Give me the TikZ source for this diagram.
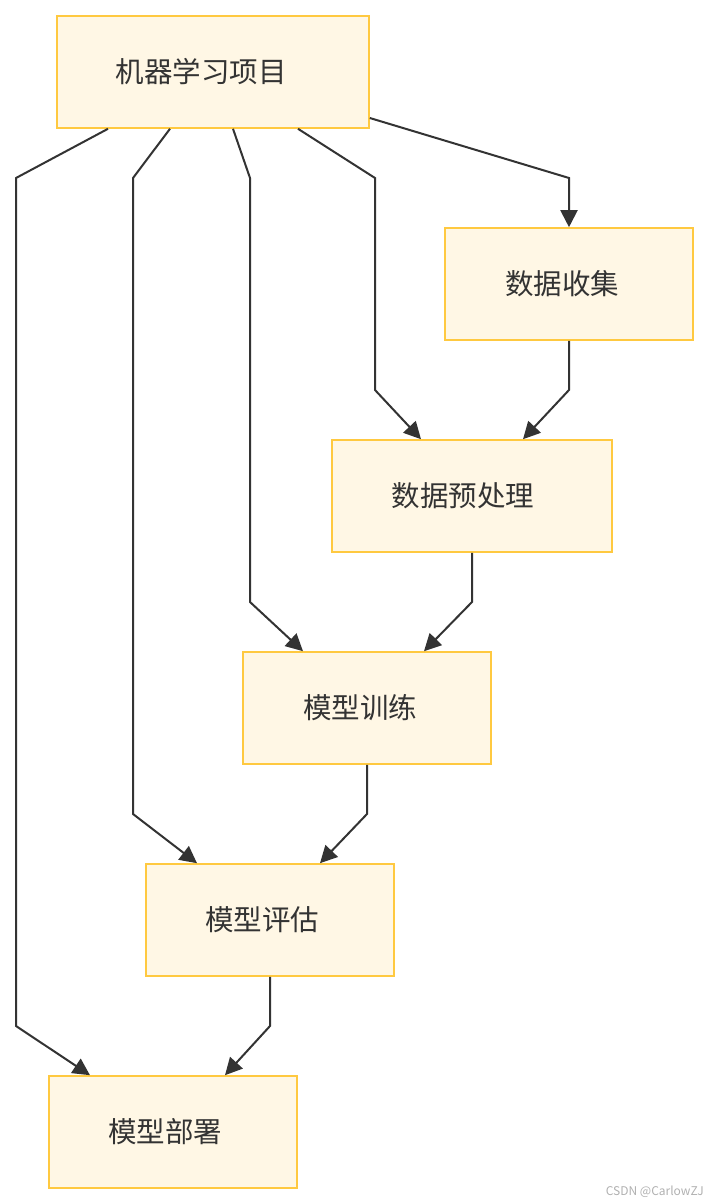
\documentclass[tikz,border=0pt]{standalone}
\usepackage{fontspec}
\setmainfont{Noto Sans CJK SC}
\usetikzlibrary{arrows.meta}
\definecolor{boxfill}{HTML}{FFF7E5}
\definecolor{boxline}{HTML}{FFC940}
\definecolor{ink}{HTML}{333333}
\definecolor{wm}{HTML}{B0B0B0}
\begin{document}
\begin{tikzpicture}[x=1pt,y=-1pt,
  box/.style={draw=boxline,fill=boxfill,line width=1.6pt,minimum height=112pt,inner sep=0pt},
  lbl/.style={text=ink,font=\fontsize{28.5}{32}\selectfont,inner sep=0pt},
  edge/.style={draw=ink,line width=2pt,-{Triangle[length=17pt,width=17pt]}}]
\useasboundingbox (0,0) rectangle (710,1204);
% boxes
\node[box,minimum width=312pt] (A) at (213,72) {};
\node[box,minimum width=248pt] (B) at (569,284) {};
\node[box,minimum width=280pt] (C) at (472,496) {};
\node[box,minimum width=248pt] (D) at (367,708) {};
\node[box,minimum width=248pt] (E) at (270,920) {};
\node[box,minimum width=248pt] (F) at (173,1132) {};
% labels
\node[lbl] (tA) at (201,72) {机器学习项目};
\node[lbl] (tB) at (562,284) {数据收集};
\node[lbl] (tC) at (463,496) {数据预处理};
\node[lbl] (tD) at (360,708) {模型训练};
\node[lbl] (tE) at (262,920) {模型评估};
\node[lbl] (tF) at (165,1132) {模型部署};
% bend coordinates
\coordinate (s1) at (108,0); \coordinate (b1a) at (16,178); \coordinate (b1b) at (16,1026); \coordinate (e1) at (90,0);
\coordinate (s2) at (170,0); \coordinate (b2a) at (133,178); \coordinate (b2b) at (133,814); \coordinate (e2) at (197,0);
\coordinate (s3) at (233,0); \coordinate (b3a) at (250,178); \coordinate (b3b) at (250,602); \coordinate (e3) at (303,0);
\coordinate (s4) at (298,0); \coordinate (b4a) at (375,178); \coordinate (b4b) at (375,390); \coordinate (e4) at (421,0);
\coordinate (s5) at (0,118); \coordinate (b5a) at (569,178);
\coordinate (bBC) at (569,390); \coordinate (eBC) at (523,0);
\coordinate (bCD) at (472,602); \coordinate (eCD) at (424,0);
\coordinate (bDE) at (367,814); \coordinate (eDE) at (320,0);
\coordinate (bEF) at (270,1026); \coordinate (eEF) at (225,0);
% edges
\draw[edge] (A.south -| s1) -- (b1a) -- (b1b) -- (F.north -| e1);
\draw[edge] (A.south -| s2) -- (b2a) -- (b2b) -- (E.north -| e2);
\draw[edge] (A.south -| s3) -- (b3a) -- (b3b) -- (D.north -| e3);
\draw[edge] (A.south -| s4) -- (b4a) -- (b4b) -- (C.north -| e4);
\draw[edge] (A.east |- s5) -- (b5a) -- (B.north);
\draw[edge] (B.south) -- (bBC) -- (C.north -| eBC);
\draw[edge] (C.south) -- (bCD) -- (D.north -| eCD);
\draw[edge] (D.south) -- (bDE) -- (E.north -| eDE);
\draw[edge] (E.south) -- (bEF) -- (F.north -| eEF);
% watermark
\node[anchor=east,text=wm,font=\fontsize{12}{14}\selectfont,inner sep=0pt] (wmk) at (704,1192) {CSDN @CarlowZJ};
\end{tikzpicture}
\end{document}
